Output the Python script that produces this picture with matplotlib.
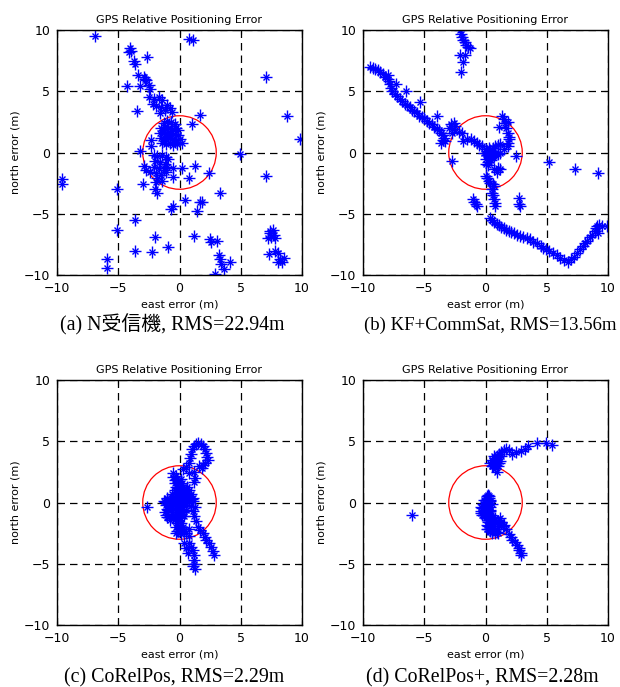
import numpy as np
import matplotlib
matplotlib.use("Agg")
import matplotlib.pyplot as plt
from matplotlib.patches import Circle

# ---- data (east, north in metres) ----
a_east = [-6.9, 0.8, 1.1, -4.05, -4.0, -4.1, -2.65, -3.75, -3.6, -3.35, -2.9, -2.8, -2.7, -4.3, -3.2, -2.5, -2.4,
          -2.5, -2.1, -1.7, -1.4, -2.2, -1.9, -1.5, -1.0, -1.2, -0.8, -1.6, -0.6, -3.5, 1.7, 1.0,
          -1.3, -1.0, -0.7, -0.4, -1.5, -1.2, -0.9, -0.6, -0.3, -0.1, -1.6, -1.3, -1.0, -0.7, -0.4, -0.1,
          -1.5, -1.2, -0.9, -0.6, -0.3, 0.0, -1.4, -1.1, -0.8, -0.5, -0.2, 0.2, -1.0, -0.8, -1.1,
          -2.3, -2.3, -3.2, -2.9, -2.7, -2.4,
          -2.1, -1.8, -1.4, -1.1, -2.0, -1.6, -1.2, -2.1, -1.7, -1.3, -1.9, -1.5, -1.1, -1.8, -1.4, -1.9, -1.0, -0.9,
          -0.5, -0.5, 0.2, 1.3, 0.75, 2.4, -3.0, -2.0, -1.8, 3.3, 0.45, 1.7, 1.8, 1.4, -0.5, -0.7,
          -5.1, -5.1, -3.6, -2.0, 1.2, -3.65, -2.25, -0.9, 2.5, 2.6, 3.1, 3.2, 3.3, 3.4, 3.6, 4.1, 2.9,
          -5.9, -5.9, -9.6, -9.6, 4.9, 7.05, 8.8, 9.8, 7.1,
          7.2, 7.4, 7.6, 7.7, 7.5, 7.4, 7.8, 7.3, 7.8, 8.0, 8.2, 8.4, 8.5, 8.0]
a_north = [9.5, 9.25, 9.2, 8.5, 8.3, 8.2, 7.8, 7.5, 7.2, 6.3, 6.2, 6.0, 5.9, 5.4, 5.4, 5.5, 5.2,
           4.5, 4.4, 4.5, 4.3, 4.0, 3.8, 3.7, 3.9, 3.5, 3.6, 3.2, 3.3, 3.4, 3.1, 2.3,
           2.4, 2.6, 2.5, 2.3, 2.0, 2.1, 2.0, 1.9, 2.0, 1.8, 1.6, 1.7, 1.5, 1.6, 1.5, 1.4,
           1.2, 1.1, 1.2, 1.1, 1.0, 1.1, 0.8, 0.7, 0.8, 0.6, 0.7, 0.8, 1.9, 1.4, 1.3,
           1.0, 0.5, 0.1, -1.1, -1.4, -1.6,
           -0.2, -0.3, -0.2, -0.4, -0.7, -0.8, -0.9, -1.2, -1.3, -1.4, -1.7, -1.8, -1.6, -2.1, -2.3, -2.4, -1.2, -0.5,
           -2.0, -1.3, -1.3, -1.1, -2.1, -1.7, -2.6, -3.0, -3.3, -3.3, -3.9, -4.0, -4.0, -4.8, -4.4, -4.6,
           -3.0, -6.3, -5.5, -6.9, -6.8, -8.0, -8.1, -7.7, -7.1, -7.3, -7.2, -8.4, -8.7, -9.1, -9.5, -8.9, -9.9,
           -8.7, -9.4, -2.2, -2.6, -0.1, 6.2, 3.0, 1.1, -1.9,
           -7.0, -6.4, -6.3, -6.7, -6.9, -6.6, -7.0, -8.3, -8.0, -8.2, -8.7, -8.9, -8.6, -8.9]

b_east = [-9.4, -9.2, -9.0, -8.8, -8.6, -8.4, -8.2, -8.0, -7.9, -7.8, -7.7, -7.6, -7.4, -7.2, -7.0, -6.8, -6.6,
          -6.4, -6.2, -6.0, -5.8, -5.6, -5.4, -5.2, -5.0, -4.8, -4.6, -4.4, -4.2, -4.0, -3.8, -3.6, -3.5,
          -3.4, -3.5, -3.6, -3.3,
          -7.3, -6.45, -5.35, -3.95, -8.0,
          -3.0, -2.8, -2.6, -2.5, -2.6, -2.7, -2.2,
          -1.9, -1.8, -1.5, -1.2, -0.9, -0.7, -0.5, -0.27, -2.7,
          0.0, 0.14, 0.3, 0.1, 0.3, 0.0, 0.2, 0.4, 0.6, 0.8, 1.0, 1.2, 0.27, -0.1, 0.5, 0.6,
          0.2, 0.45, 0.05, 0.35, 0.15, 0.5,
          1.36, 1.5, 1.6, 1.8, 1.1, 1.7, 1.8, 1.9, 1.9, 1.85, 1.8, 1.5, 1.2, 1.0, 0.8, 0.7, 2.45,
          0.7, 1.0, 1.2, 0.9,
          0.14, 0.27, 0.4, 0.6, 0.7, 0.55, 0.55, 0.6, 0.7, 0.75, 0.8, 0.0,
          -1.0, -0.9, -0.8, -0.7,
          2.73, 2.73, 2.8,
          5.15, 7.3, 9.2,
          -2.1, -2.0, -1.9, -1.8, -1.7, -1.6, -1.45, -1.3, -2.1, -1.7, -1.8, -2.0,
          0.35, 0.5, 0.7, 0.9, 1.1, 1.3, 1.5, 1.7, 1.9, 2.1, 2.3, 2.55, 2.8, 3.1, 3.35, 3.6, 3.9, 4.2,
          4.5, 4.7, 4.9, 5.2, 5.55, 5.8, 6.1, 6.4, 6.7, 7.0, 7.2, 7.45, 7.7, 7.95, 8.1, 8.3, 8.5, 8.7,
          8.9, 9.0, 9.1, 9.3, 9.5, 9.9, 9.2]
b_north = [7.0, 6.9, 6.8, 6.7, 6.55, 6.4, 6.2, 6.0, 5.8, 5.6, 5.3, 5.0, 4.8, 4.6, 4.4, 4.2, 4.0,
           3.9, 3.7, 3.5, 3.4, 3.2, 3.0, 2.9, 2.8, 2.6, 2.4, 2.3, 2.1, 1.9, 1.8, 1.6, 1.4,
           1.2, 1.0, 0.8, 0.9,
           5.6, 5.0, 4.1, 3.0, 6.3,
           2.0, 2.3, 2.4, 2.2, 1.9, 1.6, 1.7,
           1.6, 0.95, 1.1, 1.1, 0.9, 0.8, 0.6, 0.5, -0.7,
           0.3, 0.1, 0.4, -0.2, -0.3, -0.5, -0.8, 0.0, 0.4, 0.55, 0.6, 0.7, -0.55, 0.0, -0.1, 0.1,
           -1.0, -0.6, -0.9, 0.2, 0.0, -0.4,
           3.0, 2.7, 2.4, 2.45, 2.05, 2.0, 1.6, 1.3, 1.1, 0.8, 0.55, 0.27, 0.0, -0.1, -0.14, -0.3, -0.27,
           -1.36, -1.3, -1.36, -1.6,
           -2.05, -2.3, -2.45, -2.6, -2.7, -3.0, -3.27, -3.5, -3.8, -4.1, -4.4, -1.9,
           -3.8, -4.0, -4.2, -4.4,
           -3.68, -4.2, -4.35,
           -0.8, -1.35, -1.7,
           10.0, 9.7, 9.4, 9.2, 9.0, 8.8, 8.6, 8.5, 8.0, 8.0, 7.4, 6.6,
           -5.35, -5.5, -5.65, -5.8, -5.95, -6.1, -6.2, -6.3, -6.4, -6.5, -6.6, -6.7, -6.8, -6.9, -7.0, -7.1, -7.3, -7.4,
           -7.6, -7.8, -7.9, -8.0, -8.2, -8.4, -8.6, -8.75, -8.9, -8.7, -8.5, -8.2, -7.9, -7.6, -7.4, -7.2, -6.9, -6.7,
           -6.4, -6.2, -6.0, -5.9, -6.0, -6.0, -6.6]

c_east = [0.8, 0.85, 0.95, 1.05, 1.15, 1.35, 1.55, 1.75, 1.9, 2.05, 2.2, 2.25, 2.3, 2.1, 1.9, 1.6,
          0.27, 0.8, 1.2, 1.8, 1.2, 1.3, 0.55,
          -0.55, -0.5, -0.4, -0.35, -0.27, -0.1, 0.0, 0.25, 0.55, 0.8, 1.0, 1.1, -0.2, 0.3, 0.6, -0.5,
          -0.8, -1.2, -0.4, 0.1, 0.5, -0.7, -0.3, 0.2, -1.1, -0.9, -0.55, 0.14, 0.55, 0.0, 0.4, -0.8, -1.0,
          -2.67,
          0.0, 0.27, -0.27, 0.1, 0.5, -0.1,
          0.95, 1.1, 1.2, 1.35, 1.5, 1.7, 1.9, 2.05, 2.2, 2.4, 2.6, 2.75, 2.85, 1.3,
          0.8, 0.8, 0.8, 0.95, 1.1, 1.15, 1.2, 1.15, 1.1, 1.25,
          0.55, 0.7, 0.35,
          # filled-in blob
          -0.3, -0.2, 0.1, -0.1, 0.2, 0.0, 0.3, 0.6, -0.4, -0.1, 0.2, 0.5, 0.8,
          -0.6, -0.3, 0.0, 0.3, 0.6, 0.9, -1.0, -0.7, -0.4, -0.1, 0.2, 0.5, 0.8, 1.1,
          -1.3, -1.0, -0.7, -0.4, -0.1, 0.2, 0.5, 0.8, -1.1, -0.8, -0.5, -0.2, 0.1, 0.4,
          -1.0, -0.4, -0.1, 0.2, -1.2, -0.6, -0.3, 0.0, 0.3, -0.7, -0.4, -0.1, 0.2,
          -0.4, -0.1, -0.2, 0.1, -0.3, 0.0, 0.3, -0.2, 0.1, 0.4]
c_north = [3.2, 3.6, 4.0, 4.35, 4.6, 4.8, 4.85, 4.8, 4.65, 4.4, 4.05, 3.75, 3.5, 3.25, 3.1, 3.0,
           2.7, 2.4, 2.5, 2.8, 1.7, 2.0, 2.9,
           2.4, 2.1, 1.85, 1.6, 1.3, 1.15, 1.03, 0.9, 0.76, 0.5, 0.3, 0.1, 0.8, 0.5, 0.3, 0.4,
           0.2, 0.08, 0.0, 0.1, 0.0, -0.6, -0.3, -0.4, -1.0, -0.6, -1.3, -0.9, -0.6, -1.3, -1.1, -1.4, -1.2,
           -0.38,
           -1.96, -2.2, -2.5, -2.6, -2.5, -2.3,
           -0.3, -0.7, -1.1, -1.5, -1.96, -2.25, -2.5, -2.8, -3.05, -3.3, -3.6, -3.95, -4.3, -0.4,
           -2.2, -2.7, -3.3, -3.6, -3.9, -4.3, -4.7, -5.0, -5.2, -5.4,
           -3.7, -4.1, -3.3,
           2.2, 1.9, 1.9, 1.6, 1.6, 1.3, 1.3, 1.3, 1.0, 1.0, 1.0, 1.0, 1.0,
           0.7, 0.7, 0.7, 0.7, 0.7, 0.7, 0.4, 0.4, 0.4, 0.4, 0.4, 0.4, 0.4, 0.4,
           0.1, 0.1, 0.1, 0.1, 0.1, 0.1, 0.1, 0.1, -0.2, -0.2, -0.2, -0.2, -0.2, -0.2,
           -0.5, -0.5, -0.5, -0.5, -0.8, -0.8, -0.8, -0.8, -0.8, -1.1, -1.1, -1.1, -1.1,
           -1.4, -1.4, -1.7, -1.7, -2.0, -2.0, -2.0, -2.3, -2.3, -2.3]

d_east = [-5.96,
          0.4, 0.55, 0.6, 0.8, 0.95, 1.1, 1.3, 1.5, 1.7, 1.9, 2.2, 2.5, 2.9, 3.2, 3.5, 4.2, 4.9, 5.45,
          0.95, 1.2, 1.0, 0.7, 1.05,
          0.5, 0.7, 0.9, 1.1, 0.8, 1.3, 0.6,
          0.2, 0.3, 0.1, 0.0, 0.35, -0.1, 0.2, -0.27, 0.1, 0.4, -0.4, -0.1, 0.2, 0.0, 0.27, 0.5, 0.14,
          0.14, 0.35, 0.55, 0.95, 0.8, 1.0, 1.2, 1.3, 1.5, 0.6,
          0.1, 0.3, -0.1, 0.15, 0.4, -0.2, 0.05, 0.3, 0.5, -0.35, -0.1, 0.15, 0.4,
          -0.4, -0.15, 0.1, 0.35, -0.3, -0.05, 0.2, 0.45, 0.0, 0.25, 0.5, 0.75,
          0.2, 0.45, 0.7, 1.0, 1.25, 0.2, 0.4, 1.1, 1.4, 0.2, 0.4, 0.6, 0.8, 0.5, 0.75, 1.0,
          1.7, 1.9, 2.05, 2.2, 2.4, 2.6, 2.7, 2.75, 2.9, 2.9]
d_north = [-1.0,
           3.2, 2.95, 3.3, 3.6, 3.8, 4.0, 4.15, 4.3, 4.35, 4.3, 4.0, 4.1, 4.2, 4.4, 4.6, 4.85, 4.85, 4.7,
           2.5, 3.35, 3.0, 3.1, 3.7,
           3.5, 3.8, 3.4, 3.2, 2.8, 3.8, 3.0,
           0.63, 0.4, 0.3, 0.2, 0.1, -0.1, -0.2, -0.46, -0.5, -0.6, -0.87, -0.8, -0.9, -1.15, -1.4, -1.2, -1.8,
           -2.2, -2.3, -2.4, -2.4, -1.7, -1.5, -1.3, -1.6, -1.8, -1.9,
           0.5, 0.5, 0.2, 0.2, 0.2, -0.1, -0.1, -0.1, -0.1, -0.4, -0.4, -0.4, -0.4,
           -0.7, -0.7, -0.7, -0.7, -1.0, -1.0, -1.0, -1.0, -1.3, -1.3, -1.3, -1.3,
           -1.6, -1.6, -1.6, -1.6, -1.6, -1.9, -1.9, -1.9, -1.9, -2.2, -2.2, -2.2, -2.2, -2.5, -2.5, -2.5,
           -2.2, -2.6, -2.8, -3.05, -3.25, -3.45, -3.7, -3.9, -4.1, -4.3]

captions = ["(a) N受信機, RMS=22.94m", "(b) KF+CommSat, RMS=13.56m",
            "(c) CoRelPos, RMS=2.29m", "(d) CoRelPos+, RMS=2.28m"]
panels = [(a_east, a_north), (b_east, b_north), (c_east, c_north), (d_east, d_north)]
circle_radius = 3
ticks = [-10, -5, 0, 5, 10]

W, H = 620, 687
fig = plt.figure(figsize=(W / 100, H / 100), dpi=100)

# axes boxes in pixels: left, top
boxes = [(57, 30), (363, 30), (57, 380), (363, 380)]
size = 245
cap_x = [172, 490, 174, 482]
cap_y = [325, 325, 678, 678]
cap_size = [14.3, 13.5, 14.3, 14.3]

for i, ((ex, ny), (l, t)) in enumerate(zip(panels, boxes)):
    ax = fig.add_axes([l / W, 1 - (t + size) / H, size / W, size / H])
    ax.plot(ex, ny, ls="none", marker="+", ms=8, mew=1.0, color="#0000ff")
    ax.plot(ex, ny, ls="none", marker="x", ms=5, mew=1.0, color="#0000ff")
    ax.add_patch(Circle((0, 0), circle_radius, fill=False, ec="red", lw=0.9))
    ax.set_xlim(-10, 10)
    ax.set_ylim(-10, 10)
    ax.set_xticks(ticks)
    ax.set_yticks(ticks)
    ax.grid(True, color="black", ls=(0, (6, 4)), lw=0.9)
    ax.tick_params(direction="in", length=3, labelsize=9, top=True, right=True, pad=5)
    for s in ax.spines.values():
        s.set_linewidth(1.0)
    ax.set_title("GPS Relative Positioning Error", fontsize=8, pad=5)
    ax.set_xlabel("east error (m)", fontsize=8, labelpad=3)
    ax.set_ylabel("north error (m)", fontsize=8, labelpad=2)
    fig.text(cap_x[i] / W, 1 - cap_y[i] / H, captions[i], ha="center", va="center",
             fontsize=cap_size[i], family=["Liberation Serif", "Noto Sans CJK JP"])

fig.savefig("out.png", dpi=100)
